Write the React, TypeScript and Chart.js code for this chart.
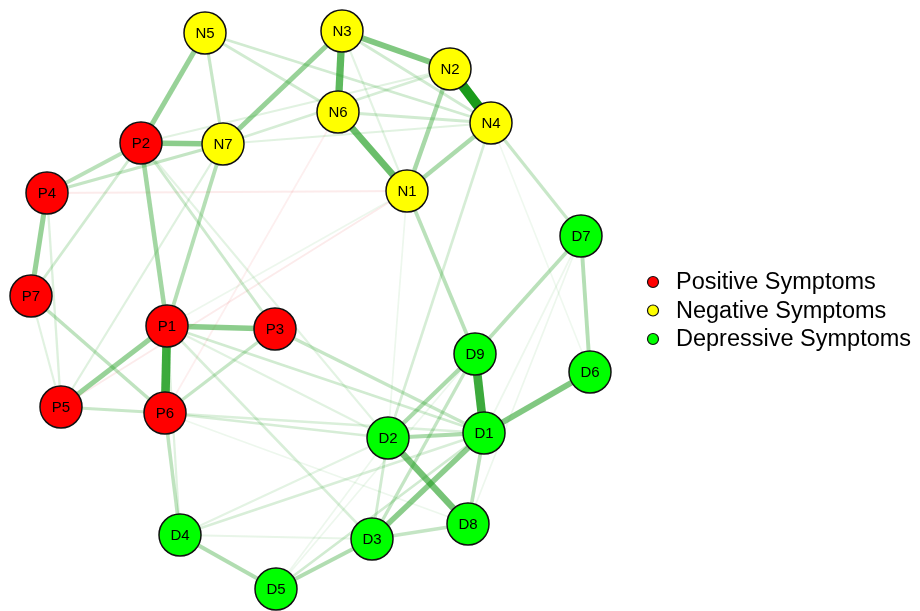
import React, { useEffect, useRef } from "react";
import { Chart, registerables } from "chart.js";

Chart.register(...registerables);

// ---- Data ----
const groupNames = ["Positive Symptoms", "Negative Symptoms", "Depressive Symptoms"];
const groupColors = ["#FF0000", "#FFFF00", "#00FF00"];

const positiveNodes = ["P1", "P2", "P3", "P4", "P5", "P6", "P7"];
const positiveX = [167, 141, 275, 47, 61, 165, 31];
const positiveY = [326, 143, 329, 193, 407, 413, 296];

const negativeNodes = ["N1", "N2", "N3", "N4", "N5", "N6", "N7"];
const negativeX = [407, 450, 342, 491, 205, 338, 223];
const negativeY = [191, 69, 31, 123, 33, 112, 144];

const depressiveNodes = ["D1", "D2", "D3", "D4", "D5", "D6", "D7", "D8", "D9"];
const depressiveX = [484, 388, 372, 180, 276, 590, 581, 468, 475];
const depressiveY = [433, 438, 539, 535, 589, 372, 236, 524, 354];

// edges: [from, to, weight] ; negative weight = negative association
const edges: [string, string, number][] = [
  ["N2", "N4", 1.0],
  ["P1", "P6", 0.85],
  ["D9", "D1", 0.85],
  ["N3", "N6", 0.7],
  ["N6", "N1", 0.65],
  ["D2", "D8", 0.6],
  ["D1", "D6", 0.55],
  ["N3", "N2", 0.55],
  ["P2", "N7", 0.5],
  ["D1", "D3", 0.5],
  ["P1", "P3", 0.5],
  ["P1", "P5", 0.45],
  ["P2", "N5", 0.45],
  ["N7", "N3", 0.45],
  ["P4", "P7", 0.45],
  ["P2", "P1", 0.4],
  ["N1", "N2", 0.38],
  ["N1", "N4", 0.36],
  ["D2", "D1", 0.36],
  ["D2", "D9", 0.36],
  ["D4", "D5", 0.34],
  ["D5", "D3", 0.34],
  ["D7", "D6", 0.32],
  ["D9", "D7", 0.3],
  ["N1", "D9", 0.3],
  ["P6", "D4", 0.28],
  ["N7", "P1", 0.32],
  ["D8", "D1", 0.3],
  ["D8", "D3", 0.26],
  ["D3", "D9", 0.26],
  ["P3", "D1", 0.25],
  ["P7", "P6", 0.28],
  ["P2", "P4", 0.3],
  ["N7", "P4", 0.26],
  ["P3", "P6", 0.25],
  ["N4", "D7", 0.24],
  ["N5", "N7", 0.24],
  ["N5", "N4", 0.2],
  ["N5", "N6", 0.2],
  ["N3", "N4", 0.2],
  ["N6", "N4", 0.2],
  ["P6", "P5", 0.24],
  ["P2", "P3", 0.22],
  ["P2", "P7", 0.2],
  ["N2", "N7", 0.18],
  ["N4", "D2", 0.18],
  ["P1", "D1", 0.2],
  ["D2", "D3", 0.2],
  ["D5", "D1", 0.2],
  ["D4", "D1", 0.17],
  ["P6", "D2", 0.18],
  ["P6", "D1", 0.16],
  ["P1", "D3", 0.17],
  ["P1", "D2", 0.13],
  ["P4", "P5", 0.15],
  ["P7", "P5", 0.13],
  ["N7", "P5", 0.14],
  ["N7", "N4", 0.13],
  ["P2", "N2", 0.13],
  ["P2", "D2", 0.12],
  ["N3", "N1", 0.12],
  ["D4", "D2", 0.12],
  ["D4", "D3", 0.1],
  ["P1", "D4", 0.14],
  ["D5", "D9", 0.08],
  ["D5", "D2", 0.08],
  ["D7", "D8", 0.08],
  ["D7", "D1", 0.08],
  ["N4", "D6", 0.07],
  ["P1", "N1", 0.08],
  ["P6", "D8", 0.08],
  ["N1", "D2", 0.08],
  ["P4", "N1", -0.1],
  ["P5", "N1", -0.1],
  ["P6", "N6", -0.08],
];

const nodeGroups = [
  { names: positiveNodes, xs: positiveX, ys: positiveY },
  { names: negativeNodes, xs: negativeX, ys: negativeY },
  { names: depressiveNodes, xs: depressiveX, ys: depressiveY },
];

function lookup(name: string) {
  for (const g of nodeGroups) {
    const i = g.names.indexOf(name);
    if (i >= 0) return { x: g.xs[i], y: g.ys[i] };
  }
  return { x: 0, y: 0 };
}

const FONT = "'Liberation Sans', Arial, Helvetica, sans-serif";

export default function App() {
  const canvasRef = useRef<HTMLCanvasElement | null>(null);

  useEffect(() => {
    if (!canvasRef.current) return;

    const edgeDatasets: any[] = edges.map(([a, b, w]) => {
      const pa = lookup(a);
      const pb = lookup(b);
      const aw = Math.abs(w);
      const alpha = Math.min(1, aw);
      const color =
        w >= 0
          ? `rgba(26,155,26,${alpha.toFixed(3)})`
          : `rgba(225,30,30,${(aw * 0.9).toFixed(3)})`;
      return {
        type: "scatter",
        label: `${a}-${b}`,
        isEdge: true,
        data: [pa, pb],
        showLine: true,
        borderColor: color,
        backgroundColor: color,
        borderWidth: Math.max(1.2, 1 + aw * 9),
        pointRadius: 0,
        order: 100 - aw * 50,
        borderCapStyle: "butt",
      };
    });

    const nodeDatasets: any[] = nodeGroups.map((g, gi) => ({
      type: "scatter",
      label: groupNames[gi],
      isNode: true,
      nodeNames: g.names,
      data: g.xs.map((x, i) => ({ x, y: g.ys[i] })),
      pointRadius: 21,
      pointHoverRadius: 21,
      pointBackgroundColor: groupColors[gi],
      pointBorderColor: "#111111",
      pointBorderWidth: 1.5,
      showLine: false,
      order: 0,
    }));

    const labelPlugin = {
      id: "nodeLabels",
      afterDatasetsDraw(chart: any) {
        const ctx = chart.ctx;
        ctx.save();
        ctx.font = `15px ${FONT}`;
        ctx.fillStyle = "#000000";
        ctx.textAlign = "center";
        ctx.textBaseline = "middle";
        chart.data.datasets.forEach((ds: any, di: number) => {
          if (!ds.isNode) return;
          const meta = chart.getDatasetMeta(di);
          meta.data.forEach((pt: any, i: number) => {
            ctx.fillText(ds.nodeNames[i], pt.x, pt.y + 1);
          });
        });
        ctx.restore();
      },
    };

    const legendPlugin = {
      id: "customLegend",
      afterDraw(chart: any) {
        const ctx = chart.ctx;
        const xs = chart.scales.x;
        const ys = chart.scales.y;
        const cx = xs.getPixelForValue(653);
        const tx = xs.getPixelForValue(676);
        const rowY = [282, 310.5, 339];
        ctx.save();
        ctx.font = `23.5px ${FONT}`;
        ctx.textBaseline = "middle";
        ctx.textAlign = "left";
        groupNames.forEach((name, i) => {
          const y = ys.getPixelForValue(rowY[i]);
          ctx.beginPath();
          ctx.arc(cx, y, 5.5, 0, Math.PI * 2);
          ctx.fillStyle = groupColors[i];
          ctx.fill();
          ctx.lineWidth = 1.2;
          ctx.strokeStyle = "#111111";
          ctx.stroke();
          ctx.fillStyle = "#000000";
          ctx.fillText(name, tx, y + 1);
        });
        ctx.restore();
      },
    };

    const chart = new Chart(canvasRef.current, {
      type: "scatter",
      data: { datasets: [...nodeDatasets, ...edgeDatasets] },
      options: {
        animation: false,
        responsive: false,
        devicePixelRatio: 1,
        events: [],
        layout: { padding: 0, autoPadding: false },
        clip: false as any,
        plugins: {
          legend: { display: false },
          tooltip: { enabled: false },
          title: { display: false },
        },
        scales: {
          x: { type: "linear", min: 0, max: 920, display: false },
          y: { type: "linear", min: 0, max: 611, reverse: true, display: false },
        },
      },
      plugins: [labelPlugin, legendPlugin],
    } as any);

    return () => chart.destroy();
  }, []);

  return (
    <div style={{ position: "fixed", left: 0, top: 0, width: 920, height: 611, background: "#ffffff" }}>
      <canvas ref={canvasRef} width={920} height={611} />
    </div>
  );
}
